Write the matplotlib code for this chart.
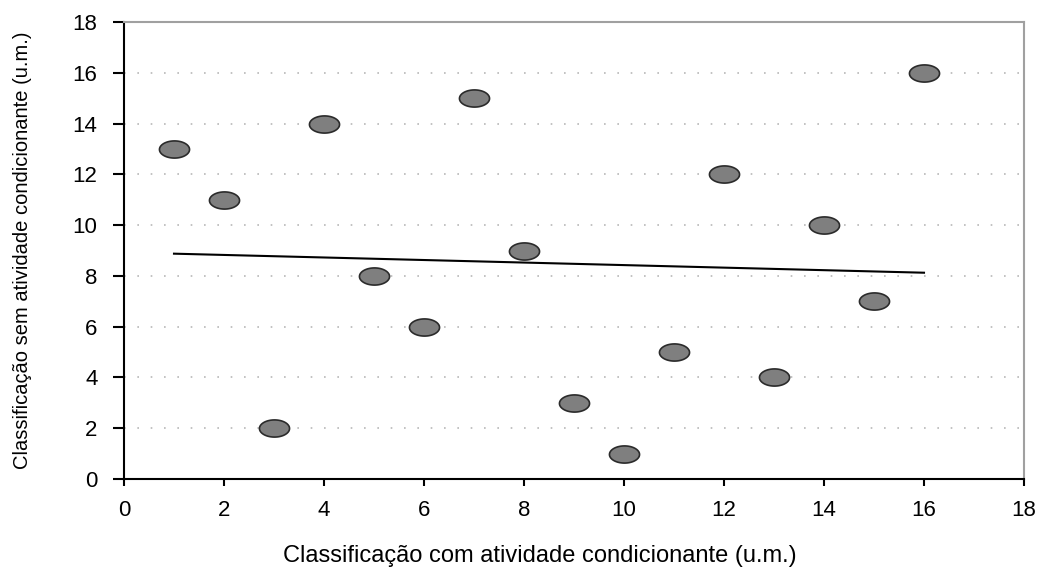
import numpy as np
import matplotlib.pyplot as plt
from matplotlib.path import Path

# ranks with and without the conditioning activity
com_atividade = [1, 2, 3, 4, 5, 6, 7, 8, 9, 10, 11, 12, 13, 14, 15, 16]
sem_atividade = [13, 11, 2, 14, 8, 6, 15, 9, 3, 1, 5, 12, 4, 10, 7, 16]
ticks = [0, 2, 4, 6, 8, 10, 12, 14, 16, 18]

plt.rcParams['font.family'] = ['Liberation Sans', 'DejaVu Sans']

# ellipse shaped marker (wider than tall)
t = np.linspace(0, 2 * np.pi, 60)
ellipse = Path(np.column_stack([np.cos(t), 0.57 * np.sin(t)]), closed=True)

fig = plt.figure(figsize=(10.43, 5.67), dpi=100)
ax = fig.add_axes([124 / 1043, 1 - 479 / 567, 900 / 1043, 457 / 567])

x = np.array(com_atividade)
y = np.array(sem_atividade)

# linear trend
z = np.polyfit(x, y, 1)
p = np.poly1d(z)
xs = np.array([x.min(), x.max()])
ax.plot(xs, p(xs), color='black', linewidth=1.5, zorder=2)

ax.scatter(x, y, s=470, marker=ellipse, facecolor='#7f7f7f',
           edgecolor='#2b2b2b', linewidth=1.2, zorder=3)

ax.set_xlim(0, 18)
ax.set_ylim(0, 18)
ax.set_xticks(ticks)
ax.set_yticks(ticks)
ax.tick_params(axis='both', labelsize=16, direction='out', width=1.5,
               color='black')
ax.tick_params(axis='x', length=5, pad=10)
ax.tick_params(axis='y', length=8, pad=11)

ax.yaxis.grid(True, color='#b8b8b8', linestyle=(0, (1, 7)), linewidth=1.2)
ax.set_axisbelow(True)

for side in ['left', 'bottom']:
    ax.spines[side].set_linewidth(1.5)
    ax.spines[side].set_color('black')
for side in ['top', 'right']:
    ax.spines[side].set_linewidth(1.5)
    ax.spines[side].set_color('#a0a0a0')

ax.set_xlabel('Classificação com atividade condicionante (u.m.)', fontsize=17)
ax.xaxis.set_label_coords(416 / 900, -66 / 457)
ax.set_ylabel('Classificação sem atividade condicionante (u.m.)', fontsize=14.5,
              family=['Liberation Sans Narrow', 'Liberation Sans'])
ax.yaxis.set_label_coords(-92 / 900, 0.5)

fig.savefig('out.png', dpi=100)
